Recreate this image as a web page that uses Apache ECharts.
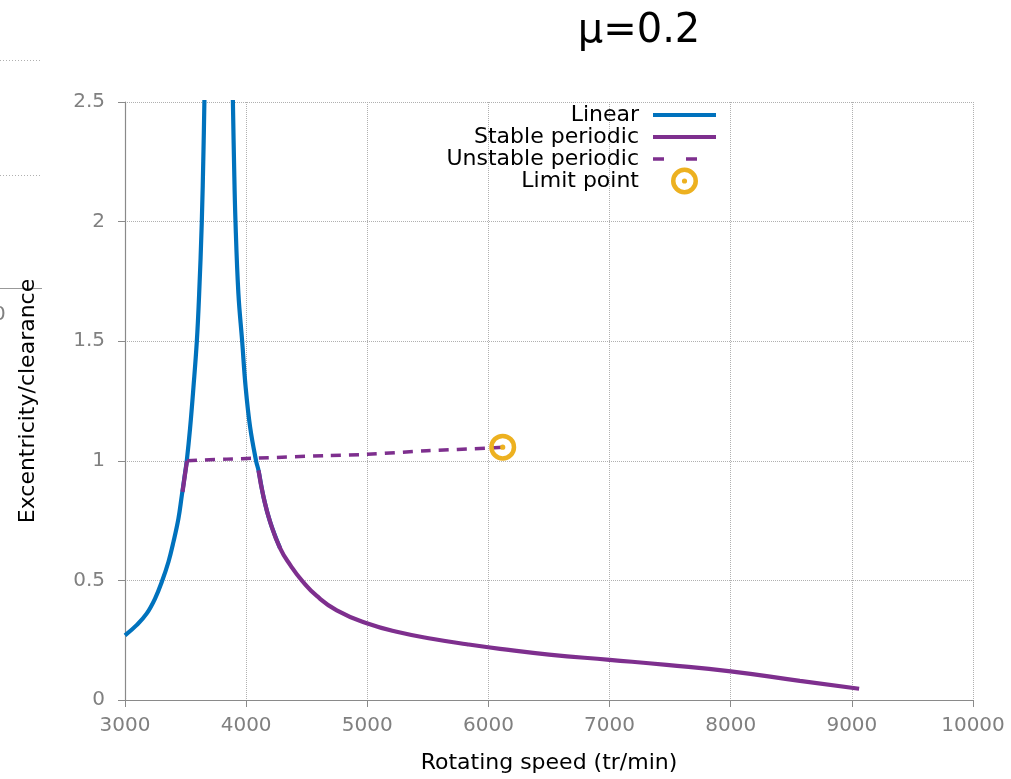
<!DOCTYPE html>
<html>
<head>
<meta charset="utf-8">
<script src="https://cdn.jsdelivr.net/npm/echarts@6/dist/echarts.min.js"></script>
<style>
html,body{margin:0;padding:0;background:#fff;}
#chart{width:1011px;height:779px;}
</style>
</head>
<body>
<div id="chart"></div>
<script>
// ---- data (rotating speed tr/min, excentricity/clearance) ----
const titleText = 'μ=0.2';
const xName = 'Rotating speed (tr/min)';
const yName = 'Excentricity/clearance';
const seriesNames = ['Linear', 'Stable periodic', 'Unstable periodic', 'Limit point'];

const linear = [
  [3000,0.27],[3098,0.314],[3180,0.362],[3249,0.425],[3304,0.494],[3359,0.578],[3400,0.661],
  [3441,0.758],[3469,0.855],[3497,0.953],[3510,1.0],[3537,1.135],[3565,1.307],[3593,1.5],
  [3612,1.696],[3634,2.0],[3648,2.3],[3656,2.52],
  '-',
  [3890,2.52],[3900,2.25],[3912,2.0],[3936,1.7],[3967,1.5],[3996,1.307],[4033,1.14],[4082,1.0],
  [4102,0.96],[4143,0.85],[4198,0.745],[4280,0.635]
];
const stablePeriodic = [
  [3475,0.87],[3493,0.935],[3512,1.0],
  '-',
  [4102,0.96],[4143,0.85],[4198,0.745],[4280,0.635],[4370,0.56],[4459,0.5],[4583,0.435],
  [4748,0.375],[4996,0.321],[5271,0.282],[5545,0.255],[5821,0.233],[6096,0.214],[6500,0.19],
  [7000,0.168],[7471,0.147],[8000,0.12],[8571,0.08],[9060,0.047]
];
const unstablePeriodic = [
  [3512,1.0],[3840,1.007],[4090,1.011],[4664,1.022],[5000,1.027],[5490,1.042],[6000,1.053],[6118,1.057]
];
const limitPoint = [[6118,1.057]];
const xTicks = {min:3000, max:10000, interval:1000};
const yTicks = {min:0, max:2.5, interval:0.5};

const FONT = '"DejaVu Sans", "Liberation Sans", Arial, sans-serif';
const C_BLUE = '#0072BD', C_PURPLE = '#7E2F8E', C_YELLOW = '#EDB120';
const ringPath = 'path://M0,-13.5A13.5,13.5 0 1,1 0,13.5A13.5,13.5 0 1,1 0,-13.5Z' +
  'M0,-9A9,9 0 1,0 0,9A9,9 0 1,0 0,-9Z' +
  'M0,-2.6A2.6,2.6 0 1,1 0,2.6A2.6,2.6 0 1,1 0,-2.6Z';
const hiddenDot = {opacity: 0, color: 'rgba(0,0,0,0)', borderWidth: 0};

const chart = echarts.init(document.getElementById('chart'), null, {renderer:'canvas'});
chart.setOption({
  animation: false,
  backgroundColor: '#fff',
  textStyle: {fontFamily: FONT},
  title: {
    text: titleText, left: 634, top: 7, textAlign: 'center',
    textStyle: {fontSize: 40, fontWeight: 'normal', color: '#000', fontFamily: FONT}
  },
  grid: {left: 125, right: 38, top: 102, bottom: 77, containLabel: false},
  legend: {
    orient: 'vertical', align: 'right', right: 288, top: 96.5,
    itemWidth: 63, itemHeight: 27, itemGap: -5,
    textStyle: {fontSize: 22, lineHeight: 27, color: '#000', fontFamily: FONT, padding: [0, 9, 0, 0]},
    data: [
      {name: seriesNames[0], itemStyle: hiddenDot, lineStyle: {color: C_BLUE, width: 4}},
      {name: seriesNames[1], itemStyle: hiddenDot, lineStyle: {color: C_PURPLE, width: 4}},
      {name: seriesNames[2], itemStyle: hiddenDot, lineStyle: {color: C_PURPLE, width: 3.5, type: [11, 22]}},
      {name: seriesNames[3]}
    ]
  },
  xAxis: {
    type: 'value', min: xTicks.min, max: xTicks.max, interval: xTicks.interval,
    name: xName, nameLocation: 'middle', nameGap: 52,
    nameTextStyle: {fontSize: 22, color: '#000', fontFamily: FONT},
    axisLine: {onZero: false, lineStyle: {color: '#8a8a8a', width: 1.2}},
    axisTick: {show: true, inside: false, length: 7, lineStyle: {color: '#8a8a8a'}},
    axisLabel: {fontSize: 20, color: '#808080', margin: 16, fontFamily: FONT, formatter: v => String(v)},
    splitLine: {show: true, lineStyle: {color: '#b0b0b0', type: 'dotted', width: 1}}
  },
  yAxis: {
    type: 'value', min: yTicks.min, max: yTicks.max, interval: yTicks.interval,
    name: yName, nameLocation: 'middle', nameGap: 86, nameRotate: 90,
    nameTextStyle: {fontSize: 22, color: '#000', fontFamily: FONT},
    axisLine: {show: true, onZero: false, lineStyle: {color: '#8a8a8a', width: 1.2}},
    axisTick: {show: true, inside: false, length: 7, lineStyle: {color: '#8a8a8a'}},
    axisLabel: {fontSize: 20, color: '#808080', margin: 20, fontFamily: FONT, formatter: v => String(v)},
    splitLine: {show: true, lineStyle: {color: '#b0b0b0', type: 'dotted', width: 1}}
  },
  series: [
    {
      name: seriesNames[0], type: 'line', data: linear, symbol: 'none', showSymbol: false,
      smooth: 0.4, connectNulls: false, clip: true, z: 2,
      lineStyle: {color: C_BLUE, width: 4.2}, itemStyle: {color: C_BLUE}
    },
    {
      name: seriesNames[1], type: 'line', data: stablePeriodic, symbol: 'none', showSymbol: false,
      smooth: 0.5, connectNulls: false, clip: true, z: 3,
      lineStyle: {color: C_PURPLE, width: 4.2}, itemStyle: {color: C_PURPLE}
    },
    {
      name: seriesNames[2], type: 'line', data: unstablePeriodic, symbol: 'none', showSymbol: false,
      smooth: 0.3, clip: true, z: 3,
      lineStyle: {color: C_PURPLE, width: 3.5, type: [10, 8]}, itemStyle: {color: C_PURPLE}
    },
    {
      name: seriesNames[3], type: 'scatter', data: limitPoint, symbol: ringPath, symbolSize: 27,
      z: 4, itemStyle: {color: C_YELLOW, opacity: 1}
    }
  ],
  graphic: [
    {type: 'line', shape: {x1: 0, y1: 60.5, x2: 42, y2: 60.5}, style: {stroke: '#b0b0b0', lineWidth: 1, lineDash: [1, 2]}},
    {type: 'line', shape: {x1: 0, y1: 175.5, x2: 42, y2: 175.5}, style: {stroke: '#b0b0b0', lineWidth: 1, lineDash: [1, 2]}},
    {type: 'line', shape: {x1: 0, y1: 288.5, x2: 42, y2: 288.5}, style: {stroke: '#999', lineWidth: 1.2}},
    {type: 'text', left: -7, top: 305, style: {text: '0', fontSize: 20, fill: '#808080', fontFamily: FONT}}
  ]
});
</script>
</body>
</html>
